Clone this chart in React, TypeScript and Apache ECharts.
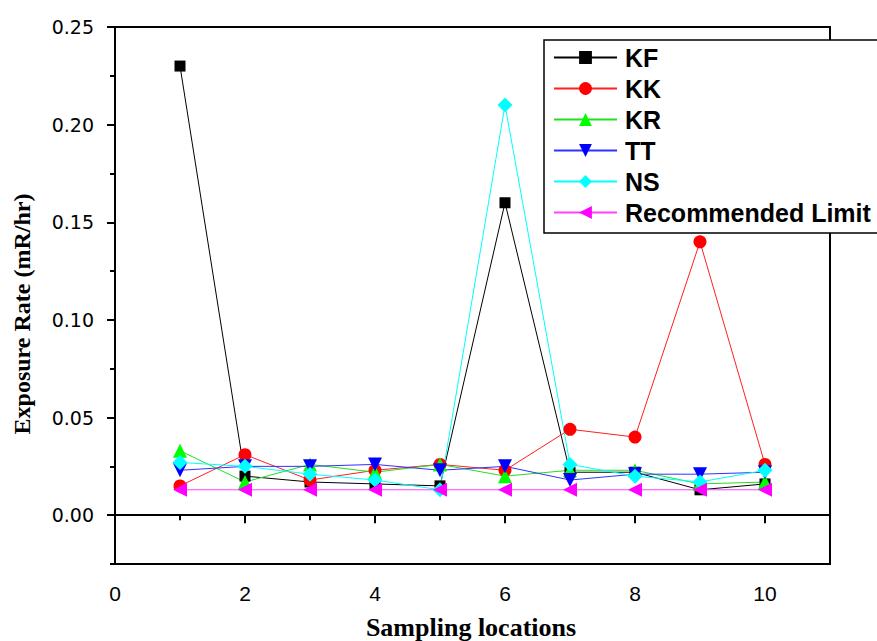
import React, { useEffect, useRef } from "react";
import * as echarts from "echarts";

const locations = [1, 2, 3, 4, 5, 6, 7, 8, 9, 10];
const KF = [0.23, 0.02, 0.017, 0.016, 0.015, 0.16, 0.022, 0.022, 0.013, 0.016];
const KK = [0.015, 0.031, 0.018, 0.023, 0.026, 0.023, 0.044, 0.04, 0.14, 0.026];
const KR = [0.033, 0.017, 0.026, 0.022, 0.026, 0.02, 0.023, 0.023, 0.016, 0.017];
const TT = [0.023, 0.025, 0.025, 0.026, 0.023, 0.025, 0.018, 0.021, 0.021, 0.022];
const NS = [0.027, 0.025, 0.021, 0.018, 0.013, 0.21, 0.026, 0.02, 0.017, 0.023];
const RL = [0.013, 0.013, 0.013, 0.013, 0.013, 0.013, 0.013, 0.013, 0.013, 0.013];

const yMajor = [0, 0.05, 0.1, 0.15, 0.2, 0.25];
const yMinor = [-0.025, 0.025, 0.075, 0.125, 0.175, 0.225];
const xMajor = [0, 2, 4, 6, 8, 10];
const xMinor = [1, 3, 5, 7, 9, 11];

const seriesDefs = [
  { name: "KF", data: KF, color: "#000000", line: "#000000", symbol: "rect", size: 11, rotate: 0 },
  { name: "KK", data: KK, color: "#ff0000", line: "#ff2020", symbol: "circle", size: 13, rotate: 0 },
  { name: "KR", data: KR, color: "#00ff00", line: "#20e020", symbol: "triangle", size: 14, rotate: 0 },
  { name: "TT", data: TT, color: "#0000ff", line: "#3030ff", symbol: "triangle", size: 14, rotate: 180 },
  { name: "NS", data: NS, color: "#00ffff", line: "#00ffff", symbol: "diamond", size: 15, rotate: 0 },
  { name: "Recommended Limit", data: RL, color: "#ff00ff", line: "#ff40ff", symbol: "triangle", size: 14, rotate: 90 },
];

const sans = "'Liberation Sans', Arial, sans-serif";
const wide = "'DejaVu Sans', Arial, sans-serif";
const serif = "'Liberation Serif', 'Times New Roman', serif";

export default function App() {
  const ref = useRef<HTMLDivElement>(null);
  useEffect(() => {
    if (!ref.current) return;
    const chart = echarts.init(ref.current, undefined, { renderer: "svg" });
    const baseAxis = {
      axisLine: { show: true, lineStyle: { color: "#000", width: 2 } },
      splitLine: { show: false },
    };
    chart.setOption({
      animation: false,
      backgroundColor: "#fff",
      grid: {
        left: 115,
        top: 27,
        right: 47,
        bottom: 77,
        show: true,
        borderColor: "#000",
        borderWidth: 2,
        containLabel: false,
      },
      xAxis: [
        {
          ...baseAxis,
          type: "value",
          min: 0,
          max: 11,
          position: "bottom",
          axisTick: { show: true, length: 8, lineStyle: { color: "#000", width: 2 }, customValues: xMajor },
          axisLabel: {
            customValues: xMajor,
            color: "#000",
            fontFamily: sans,
            fontSize: 21,
            margin: 19,
          },
        },
        {
          type: "value",
          min: 0,
          max: 11,
          position: "bottom",
          axisLine: { show: false },
          splitLine: { show: false },
          axisTick: { show: true, length: 5, lineStyle: { color: "#000", width: 2 }, customValues: xMinor },
          axisLabel: { show: false },
        },
      ],
      yAxis: [
        {
          ...baseAxis,
          type: "value",
          min: -0.025,
          max: 0.25,
          position: "left",
          axisTick: { show: true, length: 8, lineStyle: { color: "#000", width: 2 }, customValues: yMajor },
          axisLabel: {
            customValues: yMajor,
            formatter: (v: number) => v.toFixed(2),
            color: "#000",
            fontFamily: wide,
            fontSize: 19,
            margin: 21,
          },
        },
        {
          type: "value",
          min: -0.025,
          max: 0.25,
          position: "left",
          axisLine: { show: false },
          splitLine: { show: false },
          axisTick: { show: true, length: 5, lineStyle: { color: "#000", width: 2 }, customValues: yMinor },
          axisLabel: { show: false },
        },
      ],
      legend: {
        orient: "vertical",
        left: 544,
        top: 40,
        itemWidth: 63,
        itemHeight: 16,
        itemGap: 6,
        padding: [5, 0, 8, 9],
        borderWidth: 0,
        backgroundColor: "transparent",
        textStyle: { fontFamily: sans, fontWeight: "bold", fontSize: 25, color: "#000", padding: [0, 0, 0, 3] },
        data: seriesDefs.map((s) => s.name),
      },
      series: seriesDefs.map((s) => ({
        name: s.name,
        type: "line",
        xAxisIndex: 0,
        yAxisIndex: 0,
        data: locations.map((x, i) => [x, s.data[i]]),
        symbol: s.symbol,
        symbolSize: s.size,
        symbolRotate: s.rotate,
        showAllSymbol: true,
        itemStyle: { color: s.color },
        lineStyle: { color: s.line, width: 1 },
        emphasis: { disabled: true },
      })),
      graphic: [
        {
          type: "rect",
          z: 3,
          shape: { x: 544, y: 40, width: 400, height: 193 },
          style: { fill: "#fff", stroke: "#000", lineWidth: 1.5 },
        },
        {
          type: "text",
          x: 22,
          y: 314,
          rotation: Math.PI / 2,
          style: {
            text: "Exposure Rate (mR/hr)",
            fontFamily: serif,
            fontWeight: "bold",
            fontSize: 24,
            fill: "#000",
            align: "center",
            verticalAlign: "middle",
          },
        },
        {
          type: "text",
          x: 471,
          y: 627,
          style: {
            text: "Sampling locations",
            fontFamily: serif,
            fontWeight: "bold",
            fontSize: 26,
            fill: "#000",
            align: "center",
            verticalAlign: "middle",
          },
        },
      ],
    });
    return () => chart.dispose();
  }, []);
  return (
    <div
      ref={ref}
      style={{ position: "fixed", left: 0, top: 0, width: 877, height: 641 }}
    />
  );
}
